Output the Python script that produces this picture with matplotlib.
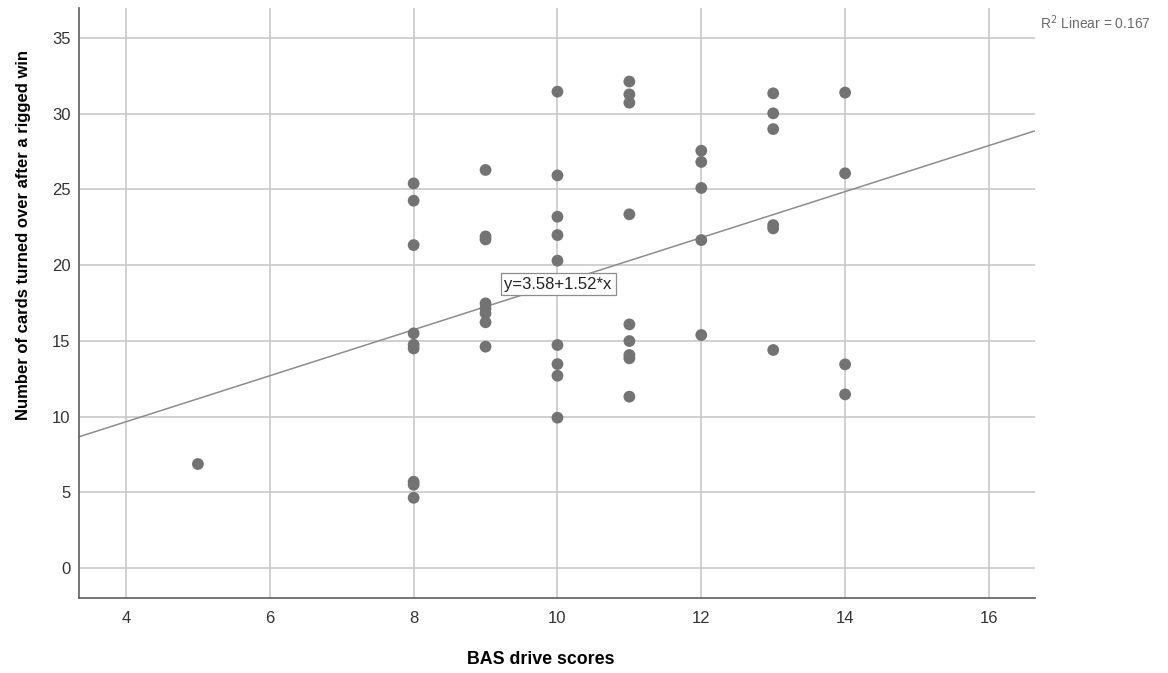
import matplotlib
matplotlib.use("Agg")
import matplotlib.pyplot as plt
import numpy as np

plt.rcParams['font.family'] = ['Liberation Sans', 'DejaVu Sans']

# BAS drive scores (x) and number of cards turned over (y)
bas_x = [5,
         8, 8, 8, 8, 8, 8, 8, 8, 8,
         9, 9, 9, 9, 9, 9, 9, 9,
         10, 10, 10, 10, 10, 10, 10, 10, 10,
         11, 11, 11, 11, 11, 11, 11, 11, 11,
         12, 12, 12, 12, 12,
         13, 13, 13, 13, 13, 13,
         14, 14, 14, 14]
cards_y = [6.87,
           25.4, 24.26, 21.33, 15.5, 14.75, 14.5, 5.7, 5.5, 4.64,
           26.29, 21.9, 21.7, 17.48, 17.15, 16.82, 16.23, 14.62,
           31.46, 25.93, 23.2, 21.99, 20.3, 14.73, 13.47, 12.7, 9.93,
           32.13, 31.28, 30.73, 23.36, 16.09, 14.99, 14.07, 13.85, 11.32,
           27.56, 26.82, 25.1, 21.66, 15.39,
           31.35, 30.03, 28.99, 22.65, 22.43, 14.4,
           31.4, 26.07, 13.45, 11.47]

intercept, slope = 3.58, 1.52
r2_text = "R$^2$ Linear = 0.167"
x_ticks = [4, 6, 8, 10, 12, 14, 16]
y_ticks = [0, 5, 10, 15, 20, 25, 30, 35]

fig = plt.figure(figsize=(11.68, 6.73), dpi=100)
ax = fig.add_axes([0.0676, 0.1114, 0.8185, 0.8766])

ax.set_xlim(3.346, 16.64)
ax.set_ylim(-1.98, 36.98)
ax.set_xticks(x_ticks)
ax.set_yticks(y_ticks)
ax.grid(True, color='#c8c8c8', lw=1.2)
ax.set_axisbelow(True)

for side in ['top', 'right']:
    ax.spines[side].set_visible(False)
for side in ['left', 'bottom']:
    ax.spines[side].set_color('#5e5e5e')
    ax.spines[side].set_linewidth(1.2)
ax.tick_params(length=0, labelsize=12, labelcolor='#333333')
ax.tick_params(axis='x', pad=9)
ax.tick_params(axis='y', pad=6)

ax.scatter(bas_x, cards_y, s=72, color='#737373', edgecolors='none', zorder=3)

# fit line over the full x range
xl = np.array(ax.get_xlim())
ax.plot(xl, intercept + slope * xl, color='#8c8c8c', lw=1.1, zorder=2)
ax.set_xlim(*xl)

ax.text(10.01, 18.75, f"y={intercept}+{slope}*x", ha='center', va='center',
        fontsize=12, color='#222222', zorder=4,
        bbox=dict(boxstyle='square,pad=0.22', fc='white', ec='#8c8c8c', lw=0.9))

fig.text(0.890, 0.967, r2_text, fontsize=10, color='#6a6a6a', ha='left', va='center')

ax.set_xlabel("BAS drive scores", fontsize=12.8, fontweight='bold')
ax.xaxis.set_label_coords(0.483, -0.105)
ax.xaxis.label.set_va('center')
ax.set_ylabel("Number of cards turned over after a rigged win", fontsize=12,
              fontweight='bold')
ax.yaxis.set_label_coords(-0.0577, 0.615)
ax.yaxis.label.set_va('center')

fig.savefig('out.png', dpi=100)
